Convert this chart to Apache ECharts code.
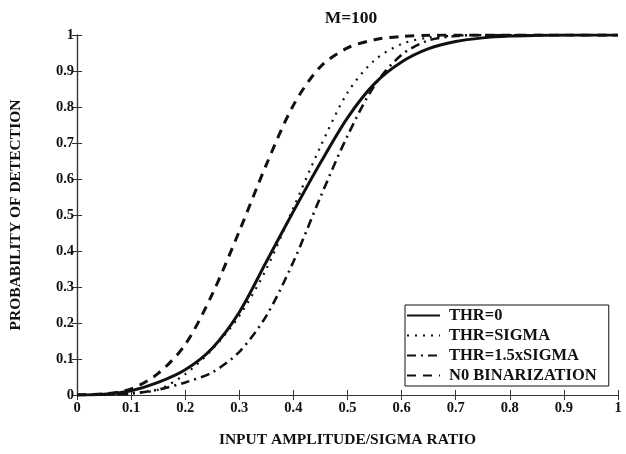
<!DOCTYPE html>
<html>
<head>
<meta charset="utf-8">
<script src="https://cdn.jsdelivr.net/npm/echarts@6/dist/echarts.min.js"></script>
<style>
	html, body { margin: 0; padding: 0; background: #fff; }
	#chart { width: 626px; height: 454px; }
</style>
</head>
<body>
<div id="chart"></div>
<script>
// input amplitude / sigma ratio
var xValues = [0, 0.05, 0.1, 0.15, 0.2, 0.25, 0.3, 0.35, 0.4, 0.45, 0.5, 0.55, 0.6, 0.65, 0.7, 0.75, 0.8, 0.85, 0.9, 0.95, 1];

// probability of detection, one list per threshold
var thr0      = [0, 0.002, 0.012, 0.035, 0.07, 0.13, 0.23, 0.37, 0.51, 0.645, 0.77, 0.865, 0.925, 0.962, 0.982, 0.992, 0.997, 0.999, 1, 1, 1];
var thrSigma  = [0, 0.001, 0.005, 0.015, 0.058, 0.127, 0.22, 0.35, 0.52, 0.69, 0.84, 0.93, 0.975, 0.993, 0.998, 1, 1, 1, 1, 1, 1];
var thr15     = [0, 0.001, 0.004, 0.015, 0.035, 0.063, 0.12, 0.22, 0.37, 0.55, 0.72, 0.86, 0.945, 0.985, 0.997, 1, 1, 1, 1, 1, 1];
var noBin     = [0, 0.003, 0.017, 0.06, 0.14, 0.28, 0.455, 0.64, 0.805, 0.912, 0.964, 0.987, 0.996, 0.999, 1, 1, 1, 1, 1, 1, 1];

var seriesNames = ['THR=0', 'THR=SIGMA', 'THR=1.5xSIGMA', 'N0 BINARIZATION'];

var font = '"Liberation Serif", "DejaVu Serif", serif';
var ink = '#111';

function pairs(ys)
{
	var out = [];
	for (var i = 0; i < xValues.length; i++)
		out.push([xValues[i], ys[i]]);
	return out;
}

function fmt(v)
{
	return (v === 0 || v === 1) ? String(v) : String(Math.round(v * 10) / 10);
}

function axis(extra)
{
	var a = {
		type: 'value',
		min: 0,
		max: 1,
		interval: 0.1,
		axisLine: { show: true, lineStyle: { color: '#333', width: 1.2 } },
		axisTick: { show: true, inside: true, length: 5, lineStyle: { color: '#333', width: 1 } },
		splitLine: { show: false }
	};
	for (var k in extra) a[k] = extra[k];
	return a;
}

var lineSeries = function(name, ys, width, type)
{
	return {
		name: name,
		type: 'line',
		data: pairs(ys),
		smooth: 0.3,
		symbol: 'none',
		lineStyle: { color: ink, width: width, type: type },
		itemStyle: { color: ink }
	};
};

var chart = echarts.init(document.getElementById('chart'));

var options = {
	backgroundColor: '#fff',
	animation: false,
	title: {
		text: 'M=100',
		left: 346,
		top: 4,
		textAlign: 'center',
		textStyle: { fontFamily: font, fontSize: 17.5, fontWeight: 'bold', color: ink }
	},
	grid: { left: 76, right: 8, top: 35, bottom: 59, containLabel: false },
	xAxis: [
		axis({
			position: 'bottom',
			name: 'INPUT AMPLITUDE/SIGMA RATIO',
			nameLocation: 'middle',
			nameGap: 37,
			nameTextStyle: { fontFamily: font, fontSize: 15.5, fontWeight: 'bold', color: ink },
			axisLabel: { fontFamily: font, fontSize: 14.5, fontWeight: 'bold', color: ink, margin: 6, formatter: fmt }
		}),
		axis({ position: 'top', axisLabel: { show: false } })
	],
	yAxis: [
		axis({
			position: 'left',
			name: 'PROBABILITY OF DETECTION',
			nameLocation: 'middle',
			nameGap: 53,
			nameTextStyle: { fontFamily: font, fontSize: 15.5, fontWeight: 'bold', color: ink },
			axisLabel: { fontFamily: font, fontSize: 14.5, fontWeight: 'bold', color: ink, margin: 3, formatter: fmt }
		}),
		axis({ position: 'right', axisLabel: { show: false } })
	],
	legend: {
		orient: 'vertical',
		left: 405,
		top: 305,
		width: 204,
		padding: [2, 12, 2, 1],
		itemGap: 3,
		itemWidth: 33,
		itemHeight: 16,
		align: 'left',
		backgroundColor: '#fff',
		borderColor: ink,
		borderWidth: 1,
		borderRadius: 0,
		itemStyle: { opacity: 0 },
		data: seriesNames,
		textStyle: { fontFamily: font, fontSize: 16.5, fontWeight: 'bold', color: ink, padding: [0, 0, 0, 4] }
	},
	series: [
		lineSeries(seriesNames[0], thr0, 3, 'solid'),
		lineSeries(seriesNames[1], thrSigma, 2.2, [2, 6]),
		lineSeries(seriesNames[2], thr15, 2.6, [9, 5, 2, 5]),
		lineSeries(seriesNames[3], noBin, 3, [9, 7])
	]
};

chart.setOption(options);
</script>
</body>
</html>
